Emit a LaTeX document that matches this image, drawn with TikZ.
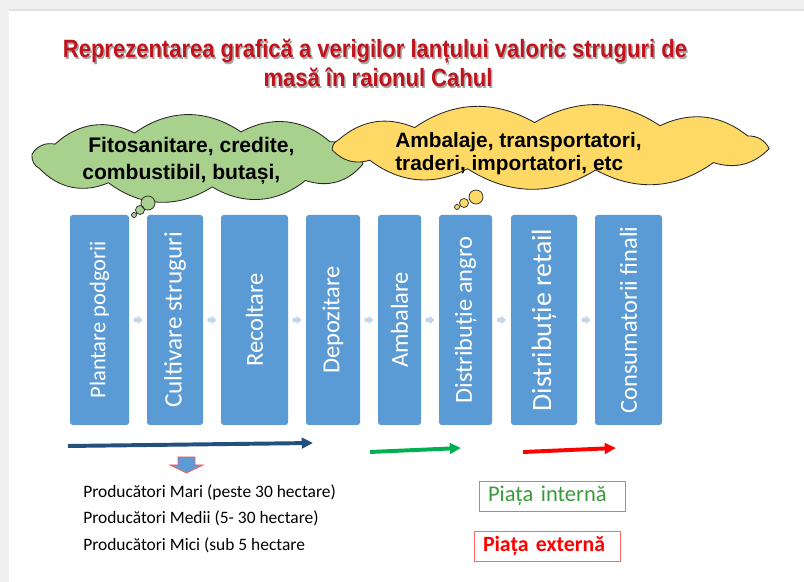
\documentclass[tikz,border=0pt]{standalone}
\usepackage{fontspec}
\setmainfont{Carlito}
\newfontface\cloudfont{Liberation Sans Bold}
\newfontface\titlefont{Liberation Sans Bold}[FakeStretch=0.88]
\usetikzlibrary{arrows.meta,calc}

\definecolor{stageblue}{HTML}{5B9BD5}
\definecolor{stagearrow}{HTML}{C5D6EC}
\definecolor{cloudgreen}{HTML}{A9D18E}
\definecolor{cloudyellow}{HTML}{FFD966}
\definecolor{titlered}{HTML}{C0131C}
\definecolor{chainblue}{HTML}{23507D}
\definecolor{flowgreen}{HTML}{00B050}
\definecolor{marketgreen}{HTML}{3A9A3A}
\definecolor{marketred}{HTML}{FF0000}

\newcommand\pu{0.025cm}

\tikzset{
  stage/.style={fill=stageblue, rounded corners=2pt, minimum height=210*\pu, inner sep=0pt},
  stagetxt/.style={rotate=90, text=white, font=\fontsize{17.4}{20}\selectfont},
  stagearr/.style={fill=stagearrow},
  cloudline/.style={draw=black!85, line width=0.6pt, line join=round},
  cloudtxt/.style={anchor=base west, inner sep=0pt, font=\cloudfont},
  titletxt/.style={anchor=base, inner sep=0pt, text=titlered, font=\titlefont\fontsize{17.8}{20}\selectfont},
  titleshadow/.style={titletxt, text=black!35},
  flow/.style={line width=2.8pt, -{Triangle[length=8pt, width=7.5pt]}},
  prodtxt/.style={anchor=base west, inner sep=0pt, font=\fontsize{12.4}{14}\selectfont},
  market/.style={draw=red!60, line width=0.6pt, minimum height=30*\pu, align=left,
    inner xsep=9*\pu, text width=128*\pu}
}

\begin{document}
\begin{tikzpicture}[x=0.025cm, y=-0.025cm]

\useasboundingbox (0, 0) rectangle (804, 582);

% Page frame
\fill[black!6] (0, 0) rectangle (804, 582);
\fill[white] (9, 10) rectangle (804, 582);
\draw[black!12, line width=0.8pt] (9, 10) -- (804, 10);

% Title with shadow
\node[titleshadow] (title1s) at (376.5, 60) {Reprezentarea grafică a verigilor lanțului valoric struguri de};
\node[titleshadow] (title2s) at (379.5, 89) {masă în raionul Cahul};
\node[titletxt] (title1) at (375, 58) {Reprezentarea grafică a verigilor lanțului valoric struguri de};
\node[titletxt] (title2) at (378, 87) {masă în raionul Cahul};

% Green cloud
\coordinate (inputs) at (197.5, 159);
\draw[cloudline, fill=cloudgreen] ($(inputs)+(10:168 and 28)$)
  \foreach \t in {50, 85, 122, 160, 190, 212, 248, 285, 322, 370} { to[bend left=35] ($(inputs)+(\t:168 and 28)$) } -- cycle;
\filldraw[fill=cloudgreen, draw=black!85, line width=0.5pt] (148, 203) circle (7) (140, 210) circle (4.5) (134, 215) circle (2.5);
\node[cloudtxt, font=\cloudfont\fontsize{15}{18}\selectfont] (inputs1) at (88, 153) {Fitosanitare, credite,};
\node[cloudtxt, font=\cloudfont\fontsize{15}{18}\selectfont] (inputs2) at (82, 180) {combustibil, butași,};

% Yellow cloud
\coordinate (services) at (550, 146.5);
\draw[cloudline, fill=cloudyellow] ($(services)+(5:220 and 24)$)
  \foreach \t in {42, 78, 112, 145, 172, 196, 232, 266, 300, 334, 365} { to[bend left=32] ($(services)+(\t:220 and 24)$) } -- cycle;
\filldraw[fill=cloudyellow, draw=black!85, line width=0.5pt] (476, 197) circle (7) (464, 203) circle (4.5) (457, 207) circle (2.5);
\node[cloudtxt, font=\cloudfont\fontsize{14.8}{17}\selectfont] (services1) at (395, 147.5) {Ambalaje, transportatori,};
\node[cloudtxt, font=\cloudfont\fontsize{14.8}{17}\selectfont] (services2) at (395, 171) {traderi, importatori, etc};

% Value chain stages
\node[stage, minimum width=59*\pu, label={[stagetxt, font=\fontsize{16}{18}\selectfont]center:Plantare podgorii}] (b1) at (99.5, 320) {};
\node[stage, minimum width=56*\pu, label={[stagetxt, font=\fontsize{17.9}{20}\selectfont]center:Cultivare struguri}] (b2) at (175, 320) {};
\node[stage, minimum width=67*\pu, label={[stagetxt]center:Recoltare}] (b3) at (254.5, 320) {};
\node[stage, minimum width=54*\pu, label={[stagetxt]center:Depozitare}] (b4) at (333, 320) {};
\node[stage, minimum width=43*\pu, label={[stagetxt]center:Ambalare}] (b5) at (399.5, 320) {};
\node[stage, minimum width=53*\pu, label={[stagetxt]center:Distribuție angro}] (b6) at (465.5, 320) {};
\node[stage, minimum width=66*\pu, label={[stagetxt, font=\fontsize{19.8}{22}\selectfont]center:Distribuție retail}] (b7) at (544, 320) {};
\node[stage, minimum width=67*\pu, label={[stagetxt]center:Consumatorii finali}] (b8) at (628.5, 320) {};

\foreach \a/\b in {b1/b2, b2/b3, b3/b4, b4/b5, b5/b6, b6/b7, b7/b8}
  \fill[stagearr] ($(\a.east)!0.5!(\b.west)$) ++(-4.5, -2) -- ++(4, 0) -- ++(0, -2.5) -- ++(5, 4.5)
    -- ++(-5, 4.5) -- ++(0, -2.5) -- ++(-4, 0) -- cycle;

% Flow arrows under the chain
\coordinate (chainS) at (68, 446);
\coordinate (chainE) at (313, 443);
\coordinate (inS) at (370, 452);
\coordinate (inE) at (461, 448);
\coordinate (exS) at (523, 452);
\coordinate (exE) at (616, 448);
\draw[flow, chainblue] (chainS) -- (chainE);
\draw[flow, flowgreen] (inS) -- (inE);
\draw[flow, marketred] (exS) -- (exE);

% Down arrow to producers
\coordinate (down) at (186.5, 457);
\filldraw[fill=stageblue, draw=red!65, line width=0.6pt] (down) ++(-8.5, 0) -- ++(17, 0) -- ++(0, 8) -- ++(8, 0)
  -- ++(-16.5, 8) -- ++(-16.5, -8) -- ++(8, 0) -- cycle;

% Producers
\node[prodtxt] (prod1) at (83, 498) {Producători Mari (peste 30 hectare)};
\node[prodtxt] (prod2) at (83, 524) {Producători Medii (5- 30 hectare)};
\node[prodtxt] (prod3) at (83, 551) {Producători Mici (sub 5 hectare};

% Markets
\node[market, text=marketgreen, font=\fontsize{16}{18}\selectfont] (internal) at (552, 496) {Piața internă};
\node[market, text=marketred, font=\bfseries\fontsize{15.5}{18}\selectfont] (external) at (547, 546) {Piața externă};

\end{tikzpicture}
\end{document}
